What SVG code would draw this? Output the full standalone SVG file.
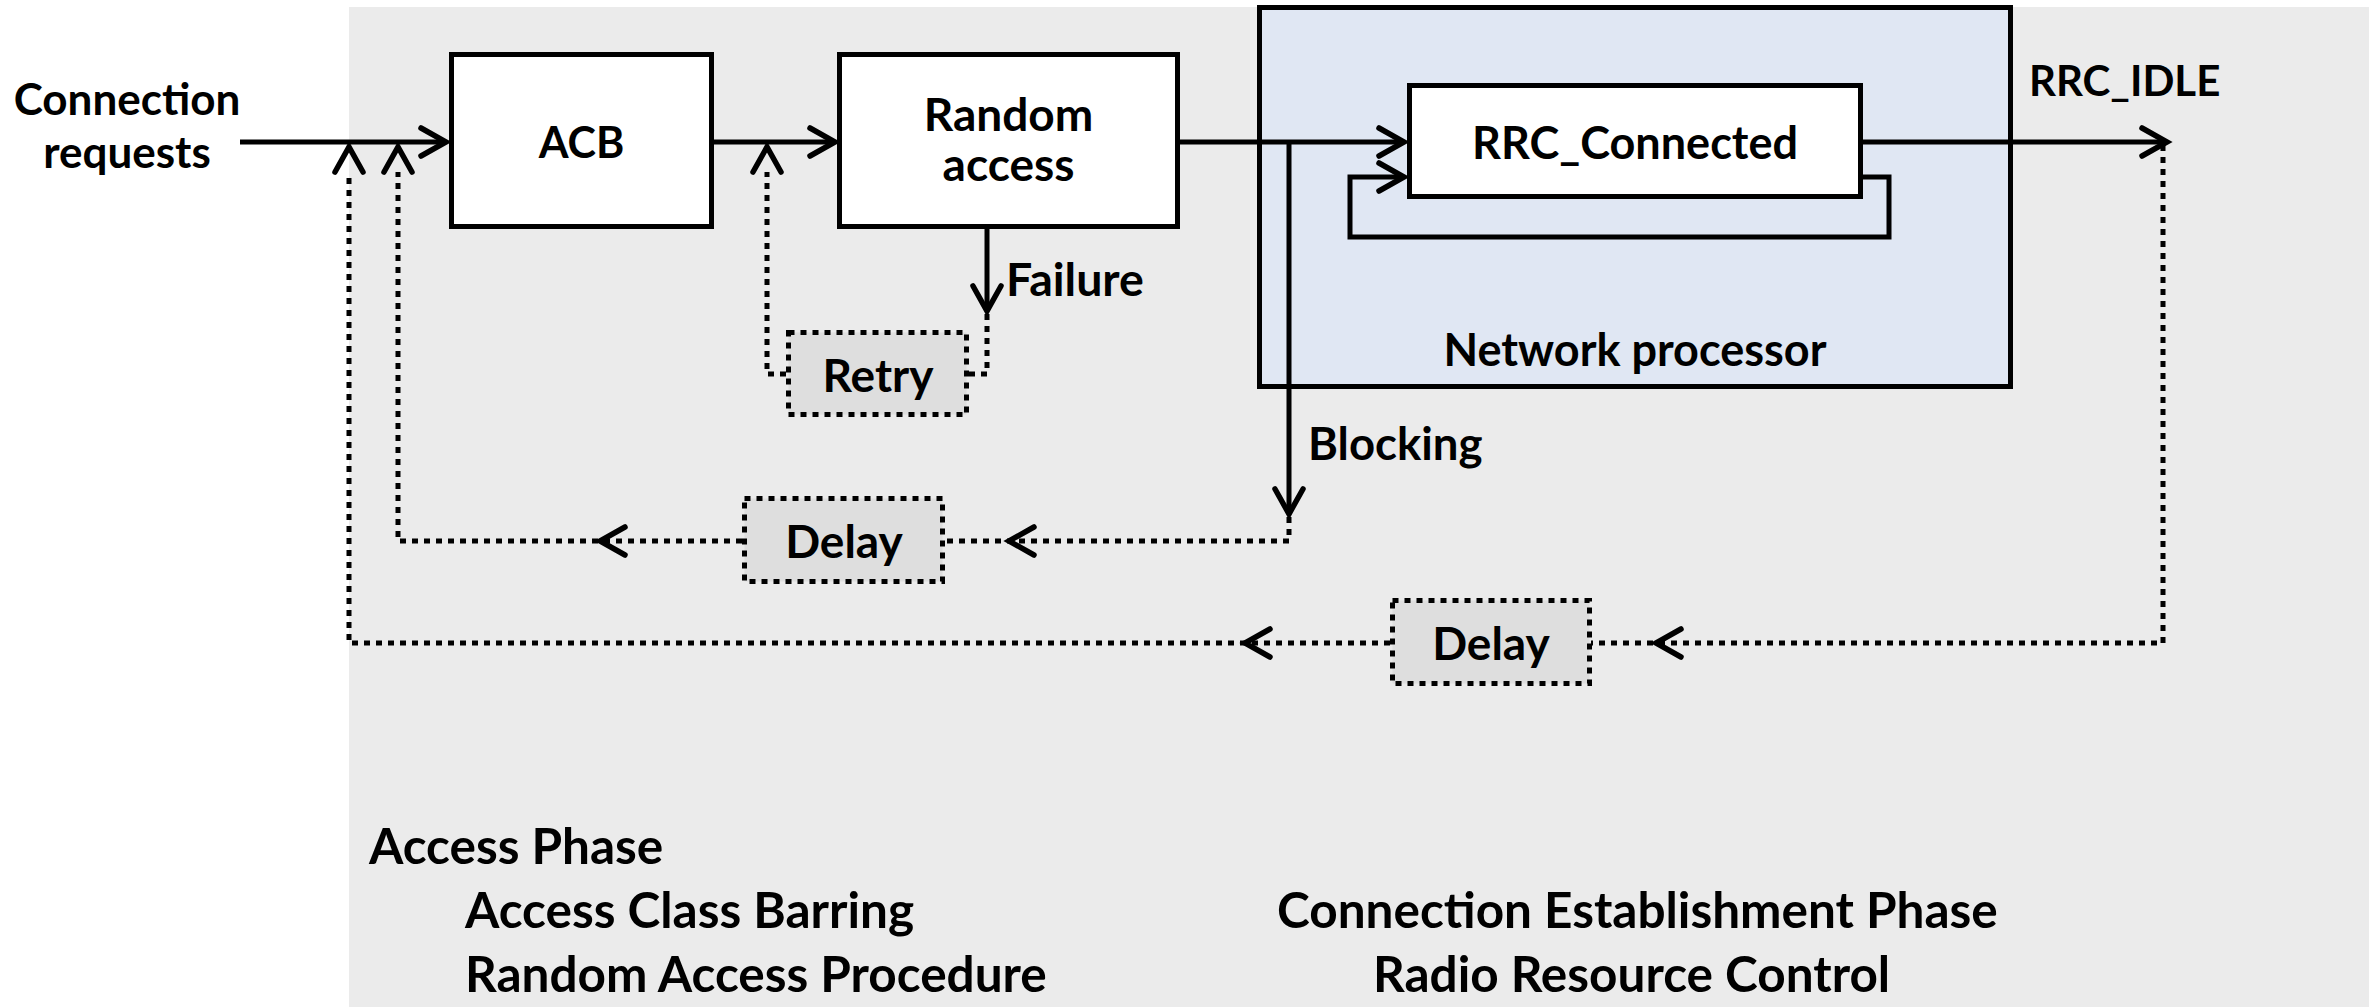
<svg xmlns="http://www.w3.org/2000/svg" xmlns:xlink="http://www.w3.org/1999/xlink" width="2369" height="1007" viewBox="0 0 2369 1007">
<style>
.t{font-family:Lato,"Liberation Sans",sans-serif;font-weight:700;fill:#000}
.m{font-size:44px}
.b{font-size:49.5px}
.box{fill:#fff;stroke:#000;stroke-width:5}
.dbox{fill:#dedede;stroke:#000;stroke-width:5;stroke-dasharray:6 6}
.ln{fill:none;stroke:#000;stroke-width:5}
.dl{fill:none;stroke:#000;stroke-width:5;stroke-dasharray:6 6}
.ch{fill:none;stroke:#000;stroke-width:5.5;stroke-linecap:round;stroke-linejoin:miter}
</style>
<defs>
<path id="chev" class="ch" d="M-25,-14 L0,0 L-25,14"/>
</defs>
<rect x="349" y="7" width="2020" height="1000" fill="#ebebeb"/>
<g id="network-processor">
<rect x="1259.5" y="7.5" width="751" height="379" fill="#e0e7f3" stroke="#000" stroke-width="5"/>
<text class="t m" x="1635" y="366" text-anchor="middle" style="font-size:45px">Network processor</text>
</g>
<g id="connection-requests">
<text class="t m" x="127" y="115" text-anchor="middle">Connection</text>
<text class="t m" x="127" y="168" text-anchor="middle">requests</text>
</g>
<g id="acb">
<rect class="box" x="451.5" y="54.5" width="260" height="172"/>
<text class="t m" x="581.5" y="158" text-anchor="middle" style="font-size:43px">ACB</text>
</g>
<g id="random-access">
<rect class="box" x="839.5" y="54.5" width="338" height="172"/>
<text class="t m" x="1008.5" y="131" text-anchor="middle" style="font-size:46px">Random</text>
<text class="t m" x="1008.5" y="181" text-anchor="middle" style="font-size:46px">access</text>
</g>
<g id="rrc-connected">
<rect class="box" x="1409.5" y="85.5" width="451" height="111"/>
<text class="t m" x="1635" y="159" text-anchor="middle" style="font-size:45px">RRC_Connected</text>
</g>
<g id="retry">
<rect class="dbox" x="788.5" y="332.5" width="178" height="82"/>
<text class="t m" x="878" y="392" text-anchor="middle" style="font-size:46px">Retry</text>
</g>
<g id="delay-1">
<rect class="dbox" x="744.5" y="498.5" width="198" height="83"/>
<text class="t m" x="844" y="558" text-anchor="middle" style="font-size:46px">Delay</text>
</g>
<g id="delay-2">
<rect class="dbox" x="1392.5" y="600.5" width="197" height="83"/>
<text class="t m" x="1491" y="660" text-anchor="middle" style="font-size:46px">Delay</text>
</g>
<g id="labels">
<text class="t m" x="1006" y="296" style="font-size:46.5px">Failure</text>
<text class="t m" x="1308" y="460" style="font-size:45.5px">Blocking</text>
<text class="t m" x="2029" y="96" style="font-size:42px">RRC_IDLE</text>
<text class="t b" x="369" y="864">Access Phase</text>
<text class="t b" x="465" y="928">Access Class Barring</text>
<text class="t b" x="465" y="992">Random Access Procedure</text>
<text class="t b" x="1277" y="928">Connection Establishment Phase</text>
<text class="t b" x="1373" y="992">Radio Resource Control</text>
</g>
<g id="connectors">
<path class="ln" d="M240,142 H446"/>
<use xlink:href="#chev" transform="translate(446,142)"/>
<path class="ln" d="M714,142 H835"/>
<use xlink:href="#chev" transform="translate(835,142)"/>
<path class="ln" d="M1180,142 H1404"/>
<use xlink:href="#chev" transform="translate(1404,142)"/>
<path class="ln" d="M1863,142 H2167"/>
<use xlink:href="#chev" transform="translate(2167,142)"/>
<path class="ln" d="M1863,177 H1889 V237 H1350 V177 H1404"/>
<use xlink:href="#chev" transform="translate(1404,177)"/>
<path class="ln" d="M987,229 V311"/>
<use xlink:href="#chev" transform="translate(987,311) rotate(90)"/>
<path class="dl" d="M987,314 V374 H969"/>
<path class="dl" d="M786,374 H767 V172"/>
<use xlink:href="#chev" transform="translate(767,147) rotate(-90)"/>
<path class="ln" d="M1289,142 V513"/>
<use xlink:href="#chev" transform="translate(1289,514) rotate(90)"/>
<path class="dl" d="M1289,517 V541 H944"/>
<use xlink:href="#chev" transform="translate(1009,541) rotate(180)"/>
<path class="dl" d="M742,541 H398 V172"/>
<use xlink:href="#chev" transform="translate(600,541) rotate(180)"/>
<use xlink:href="#chev" transform="translate(398,147) rotate(-90)"/>
<path class="dl" d="M2163,145 V643 H1591"/>
<use xlink:href="#chev" transform="translate(1656,643) rotate(180)"/>
<path class="dl" d="M1390,643 H349 V172"/>
<use xlink:href="#chev" transform="translate(1245,643) rotate(180)"/>
<use xlink:href="#chev" transform="translate(349,147) rotate(-90)"/>
</g>
</svg>
